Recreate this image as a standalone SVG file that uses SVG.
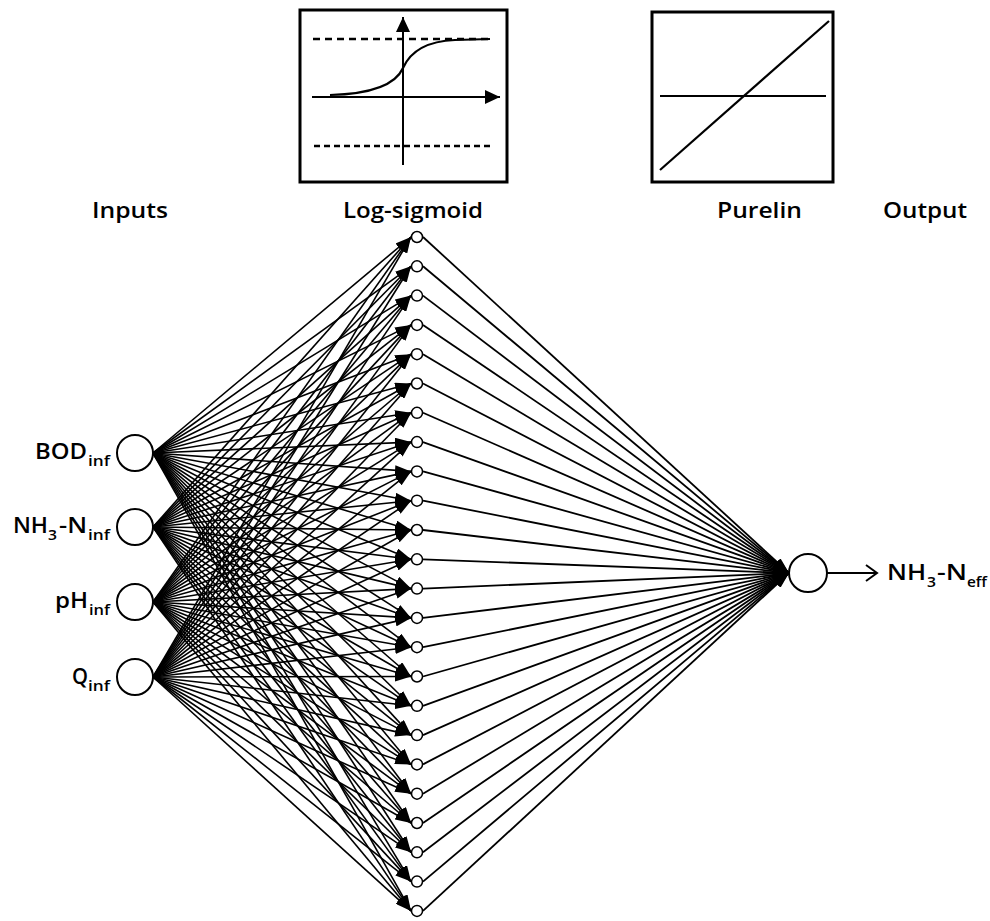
<svg xmlns="http://www.w3.org/2000/svg" width="990" height="921" viewBox="0 0 990 921">
<style>
text{font-family:"Open Sans","Liberation Sans",sans-serif;font-weight:600;fill:#000}
.lbl{font-size:21px}
.sub{font-size:14px}
.c{stroke:#000;stroke-width:1.6;fill:none;marker-end:url(#ah)}
.o{stroke:#000;stroke-width:1.8;fill:none;marker-end:url(#ah2)}
.in{fill:#fff;stroke:#000;stroke-width:2}
.hn{fill:#fff;stroke:#000;stroke-width:1.5}
.box{fill:#fff;stroke:#000;stroke-width:3}
</style>
<defs>
<marker id="ah" markerUnits="userSpaceOnUse" markerWidth="16" markerHeight="10" refX="16" refY="5" orient="auto"><path d="M0,0 L16,5 L0,10 z" fill="#000"/></marker>
<marker id="ah2" markerUnits="userSpaceOnUse" markerWidth="16" markerHeight="10" refX="16" refY="5" orient="auto"><path d="M0,0 L16,5 L0,10 z" fill="#000"/></marker>
<marker id="open" markerUnits="userSpaceOnUse" markerWidth="14" markerHeight="18" refX="12" refY="9" orient="auto"><path d="M1,1 L12,9 L1,17" fill="none" stroke="#000" stroke-width="2"/></marker>
<marker id="fa" markerUnits="userSpaceOnUse" markerWidth="16" markerHeight="14" refX="15" refY="7" orient="auto"><path d="M0,0 L15,7 L0,14 z" fill="#000"/></marker>
</defs>
<rect width="990" height="921" fill="#fff"/>

<g id="logsig-box">
<rect class="box" x="300" y="10" width="207" height="172"/>
<line x1="313" y1="39" x2="490" y2="39" stroke="#000" stroke-width="2.5" stroke-dasharray="7 5"/>
<line x1="314" y1="146" x2="490" y2="146" stroke="#000" stroke-width="2.5" stroke-dasharray="6 4"/>
<line x1="312" y1="97" x2="500" y2="97" stroke="#000" stroke-width="2" marker-end="url(#fa)"/>
<line x1="403" y1="165" x2="403" y2="17" stroke="#000" stroke-width="2" marker-end="url(#fa)"/>
<path d="M330,95 C370,94 395,86 403,68 C411,50 430,41 455,40 L490,39" fill="none" stroke="#000" stroke-width="2.2"/>
</g>

<g id="purelin-box">
<rect class="box" x="652" y="12" width="181" height="170"/>
<line x1="660" y1="96" x2="826" y2="96" stroke="#000" stroke-width="1.8"/>
<line x1="660" y1="170" x2="829" y2="21" stroke="#000" stroke-width="2.2"/>
</g>

<g id="titles">
<text class="lbl" x="92" y="218" textLength="76" lengthAdjust="spacingAndGlyphs">Inputs</text>
<text class="lbl" x="343" y="218" textLength="140" lengthAdjust="spacingAndGlyphs">Log-sigmoid</text>
<text class="lbl" x="717" y="218" textLength="85" lengthAdjust="spacingAndGlyphs">Purelin</text>
<text class="lbl" x="883" y="218" textLength="84" lengthAdjust="spacingAndGlyphs">Output</text>
</g>

<g id="connectors">
<g id="from-bod">
<line class="c" x1="153" y1="453" x2="411" y2="237"/>
<line class="c" x1="153" y1="453" x2="411" y2="266.3"/>
<line class="c" x1="153" y1="453" x2="411" y2="295.6"/>
<line class="c" x1="153" y1="453" x2="411" y2="324.9"/>
<line class="c" x1="153" y1="453" x2="411" y2="354.2"/>
<line class="c" x1="153" y1="453" x2="411" y2="383.5"/>
<line class="c" x1="153" y1="453" x2="411" y2="412.8"/>
<line class="c" x1="153" y1="453" x2="411" y2="442.1"/>
<line class="c" x1="153" y1="453" x2="411" y2="471.4"/>
<line class="c" x1="153" y1="453" x2="411" y2="500.7"/>
<line class="c" x1="153" y1="453" x2="411" y2="530"/>
<line class="c" x1="153" y1="453" x2="411" y2="559.3"/>
<line class="c" x1="153" y1="453" x2="411" y2="588.6"/>
<line class="c" x1="153" y1="453" x2="411" y2="617.9"/>
<line class="c" x1="153" y1="453" x2="411" y2="647.2"/>
<line class="c" x1="153" y1="453" x2="411" y2="676.5"/>
<line class="c" x1="153" y1="453" x2="411" y2="705.8"/>
<line class="c" x1="153" y1="453" x2="411" y2="735.1"/>
<line class="c" x1="153" y1="453" x2="411" y2="764.4"/>
<line class="c" x1="153" y1="453" x2="411" y2="793.7"/>
<line class="c" x1="153" y1="453" x2="411" y2="823"/>
<line class="c" x1="153" y1="453" x2="411" y2="852.3"/>
<line class="c" x1="153" y1="453" x2="411" y2="881.6"/>
<line class="c" x1="153" y1="453" x2="411" y2="910.9"/>
</g>
<g id="from-nh3">
<line class="c" x1="153" y1="527" x2="411" y2="237"/>
<line class="c" x1="153" y1="527" x2="411" y2="266.3"/>
<line class="c" x1="153" y1="527" x2="411" y2="295.6"/>
<line class="c" x1="153" y1="527" x2="411" y2="324.9"/>
<line class="c" x1="153" y1="527" x2="411" y2="354.2"/>
<line class="c" x1="153" y1="527" x2="411" y2="383.5"/>
<line class="c" x1="153" y1="527" x2="411" y2="412.8"/>
<line class="c" x1="153" y1="527" x2="411" y2="442.1"/>
<line class="c" x1="153" y1="527" x2="411" y2="471.4"/>
<line class="c" x1="153" y1="527" x2="411" y2="500.7"/>
<line class="c" x1="153" y1="527" x2="411" y2="530"/>
<line class="c" x1="153" y1="527" x2="411" y2="559.3"/>
<line class="c" x1="153" y1="527" x2="411" y2="588.6"/>
<line class="c" x1="153" y1="527" x2="411" y2="617.9"/>
<line class="c" x1="153" y1="527" x2="411" y2="647.2"/>
<line class="c" x1="153" y1="527" x2="411" y2="676.5"/>
<line class="c" x1="153" y1="527" x2="411" y2="705.8"/>
<line class="c" x1="153" y1="527" x2="411" y2="735.1"/>
<line class="c" x1="153" y1="527" x2="411" y2="764.4"/>
<line class="c" x1="153" y1="527" x2="411" y2="793.7"/>
<line class="c" x1="153" y1="527" x2="411" y2="823"/>
<line class="c" x1="153" y1="527" x2="411" y2="852.3"/>
<line class="c" x1="153" y1="527" x2="411" y2="881.6"/>
<line class="c" x1="153" y1="527" x2="411" y2="910.9"/>
</g>
<g id="from-ph">
<line class="c" x1="153" y1="602" x2="411" y2="237"/>
<line class="c" x1="153" y1="602" x2="411" y2="266.3"/>
<line class="c" x1="153" y1="602" x2="411" y2="295.6"/>
<line class="c" x1="153" y1="602" x2="411" y2="324.9"/>
<line class="c" x1="153" y1="602" x2="411" y2="354.2"/>
<line class="c" x1="153" y1="602" x2="411" y2="383.5"/>
<line class="c" x1="153" y1="602" x2="411" y2="412.8"/>
<line class="c" x1="153" y1="602" x2="411" y2="442.1"/>
<line class="c" x1="153" y1="602" x2="411" y2="471.4"/>
<line class="c" x1="153" y1="602" x2="411" y2="500.7"/>
<line class="c" x1="153" y1="602" x2="411" y2="530"/>
<line class="c" x1="153" y1="602" x2="411" y2="559.3"/>
<line class="c" x1="153" y1="602" x2="411" y2="588.6"/>
<line class="c" x1="153" y1="602" x2="411" y2="617.9"/>
<line class="c" x1="153" y1="602" x2="411" y2="647.2"/>
<line class="c" x1="153" y1="602" x2="411" y2="676.5"/>
<line class="c" x1="153" y1="602" x2="411" y2="705.8"/>
<line class="c" x1="153" y1="602" x2="411" y2="735.1"/>
<line class="c" x1="153" y1="602" x2="411" y2="764.4"/>
<line class="c" x1="153" y1="602" x2="411" y2="793.7"/>
<line class="c" x1="153" y1="602" x2="411" y2="823"/>
<line class="c" x1="153" y1="602" x2="411" y2="852.3"/>
<line class="c" x1="153" y1="602" x2="411" y2="881.6"/>
<line class="c" x1="153" y1="602" x2="411" y2="910.9"/>
</g>
<g id="from-q">
<line class="c" x1="153" y1="677" x2="411" y2="237"/>
<line class="c" x1="153" y1="677" x2="411" y2="266.3"/>
<line class="c" x1="153" y1="677" x2="411" y2="295.6"/>
<line class="c" x1="153" y1="677" x2="411" y2="324.9"/>
<line class="c" x1="153" y1="677" x2="411" y2="354.2"/>
<line class="c" x1="153" y1="677" x2="411" y2="383.5"/>
<line class="c" x1="153" y1="677" x2="411" y2="412.8"/>
<line class="c" x1="153" y1="677" x2="411" y2="442.1"/>
<line class="c" x1="153" y1="677" x2="411" y2="471.4"/>
<line class="c" x1="153" y1="677" x2="411" y2="500.7"/>
<line class="c" x1="153" y1="677" x2="411" y2="530"/>
<line class="c" x1="153" y1="677" x2="411" y2="559.3"/>
<line class="c" x1="153" y1="677" x2="411" y2="588.6"/>
<line class="c" x1="153" y1="677" x2="411" y2="617.9"/>
<line class="c" x1="153" y1="677" x2="411" y2="647.2"/>
<line class="c" x1="153" y1="677" x2="411" y2="676.5"/>
<line class="c" x1="153" y1="677" x2="411" y2="705.8"/>
<line class="c" x1="153" y1="677" x2="411" y2="735.1"/>
<line class="c" x1="153" y1="677" x2="411" y2="764.4"/>
<line class="c" x1="153" y1="677" x2="411" y2="793.7"/>
<line class="c" x1="153" y1="677" x2="411" y2="823"/>
<line class="c" x1="153" y1="677" x2="411" y2="852.3"/>
<line class="c" x1="153" y1="677" x2="411" y2="881.6"/>
<line class="c" x1="153" y1="677" x2="411" y2="910.9"/>
</g>
<g id="to-output">
<line class="o" x1="423" y1="237" x2="789" y2="573"/>
<line class="o" x1="423" y1="266.3" x2="789" y2="573"/>
<line class="o" x1="423" y1="295.6" x2="789" y2="573"/>
<line class="o" x1="423" y1="324.9" x2="789" y2="573"/>
<line class="o" x1="423" y1="354.2" x2="789" y2="573"/>
<line class="o" x1="423" y1="383.5" x2="789" y2="573"/>
<line class="o" x1="423" y1="412.8" x2="789" y2="573"/>
<line class="o" x1="423" y1="442.1" x2="789" y2="573"/>
<line class="o" x1="423" y1="471.4" x2="789" y2="573"/>
<line class="o" x1="423" y1="500.7" x2="789" y2="573"/>
<line class="o" x1="423" y1="530" x2="789" y2="573"/>
<line class="o" x1="423" y1="559.3" x2="789" y2="573"/>
<line class="o" x1="423" y1="588.6" x2="789" y2="573"/>
<line class="o" x1="423" y1="617.9" x2="789" y2="573"/>
<line class="o" x1="423" y1="647.2" x2="789" y2="573"/>
<line class="o" x1="423" y1="676.5" x2="789" y2="573"/>
<line class="o" x1="423" y1="705.8" x2="789" y2="573"/>
<line class="o" x1="423" y1="735.1" x2="789" y2="573"/>
<line class="o" x1="423" y1="764.4" x2="789" y2="573"/>
<line class="o" x1="423" y1="793.7" x2="789" y2="573"/>
<line class="o" x1="423" y1="823" x2="789" y2="573"/>
<line class="o" x1="423" y1="852.3" x2="789" y2="573"/>
<line class="o" x1="423" y1="881.6" x2="789" y2="573"/>
<line class="o" x1="423" y1="910.9" x2="789" y2="573"/>
</g>
<line id="out-arrow" x1="827" y1="573" x2="877" y2="573" stroke="#000" stroke-width="2" marker-end="url(#open)"/>
</g>

<g id="hidden-nodes">
<circle class="hn" cx="417" cy="237" r="5.5"/>
<circle class="hn" cx="417" cy="266.3" r="5.5"/>
<circle class="hn" cx="417" cy="295.6" r="5.5"/>
<circle class="hn" cx="417" cy="324.9" r="5.5"/>
<circle class="hn" cx="417" cy="354.2" r="5.5"/>
<circle class="hn" cx="417" cy="383.5" r="5.5"/>
<circle class="hn" cx="417" cy="412.8" r="5.5"/>
<circle class="hn" cx="417" cy="442.1" r="5.5"/>
<circle class="hn" cx="417" cy="471.4" r="5.5"/>
<circle class="hn" cx="417" cy="500.7" r="5.5"/>
<circle class="hn" cx="417" cy="530" r="5.5"/>
<circle class="hn" cx="417" cy="559.3" r="5.5"/>
<circle class="hn" cx="417" cy="588.6" r="5.5"/>
<circle class="hn" cx="417" cy="617.9" r="5.5"/>
<circle class="hn" cx="417" cy="647.2" r="5.5"/>
<circle class="hn" cx="417" cy="676.5" r="5.5"/>
<circle class="hn" cx="417" cy="705.8" r="5.5"/>
<circle class="hn" cx="417" cy="735.1" r="5.5"/>
<circle class="hn" cx="417" cy="764.4" r="5.5"/>
<circle class="hn" cx="417" cy="793.7" r="5.5"/>
<circle class="hn" cx="417" cy="823" r="5.5"/>
<circle class="hn" cx="417" cy="852.3" r="5.5"/>
<circle class="hn" cx="417" cy="881.6" r="5.5"/>
<circle class="hn" cx="417" cy="910.9" r="5.5"/>
</g>

<g id="input-bod">
<circle class="in" cx="135" cy="453" r="18"/>
<text class="lbl" x="35" y="459" textLength="52" lengthAdjust="spacingAndGlyphs">BOD</text>
<text class="sub" x="88" y="466" textLength="22" lengthAdjust="spacingAndGlyphs">inf</text>
</g>
<g id="input-nh3">
<circle class="in" cx="135" cy="527" r="18"/>
<text class="lbl" x="13" y="533" textLength="35" lengthAdjust="spacingAndGlyphs">NH</text>
<text class="sub" x="48" y="540" textLength="9" lengthAdjust="spacingAndGlyphs">3</text>
<text class="lbl" x="59" y="533" textLength="28" lengthAdjust="spacingAndGlyphs">-N</text>
<text class="sub" x="88" y="540" textLength="22" lengthAdjust="spacingAndGlyphs">inf</text>
</g>
<g id="input-ph">
<circle class="in" cx="135" cy="602" r="18"/>
<text class="lbl" x="55" y="608" textLength="33" lengthAdjust="spacingAndGlyphs">pH</text>
<text class="sub" x="89" y="615" textLength="21" lengthAdjust="spacingAndGlyphs">inf</text>
</g>
<g id="input-q">
<circle class="in" cx="135" cy="677" r="18"/>
<text class="lbl" x="72" y="684" textLength="16" lengthAdjust="spacingAndGlyphs">Q</text>
<text class="sub" x="88" y="691" textLength="22" lengthAdjust="spacingAndGlyphs">inf</text>
</g>

<g id="output-node">
<circle class="in" cx="808" cy="573" r="19"/>
<text class="lbl" x="887" y="580" textLength="39" lengthAdjust="spacingAndGlyphs">NH</text>
<text class="sub" x="927" y="587" textLength="9" lengthAdjust="spacingAndGlyphs">3</text>
<text class="lbl" x="937" y="580" textLength="30" lengthAdjust="spacingAndGlyphs">-N</text>
<text class="sub" x="967" y="587" textLength="20" lengthAdjust="spacingAndGlyphs">eff</text>
</g>
</svg>
